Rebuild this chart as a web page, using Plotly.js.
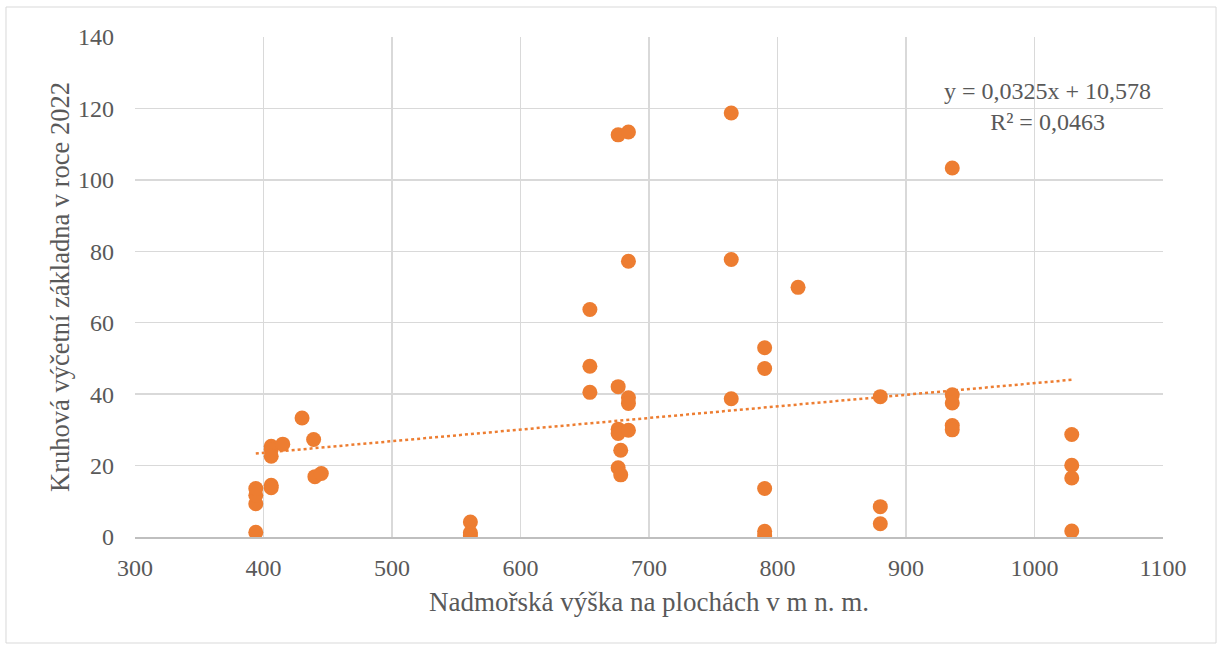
<!DOCTYPE html>
<html>
<head>
<meta charset="utf-8">
<script src="https://cdn.plot.ly/plotly-3.0.1.min.js"></script>
<style>html,body{margin:0;padding:0;background:#fff;}#chart{width:1222px;height:646px;}</style>
</head>
<body>
<div id="chart"></div>
<script>
// Altitude (m a.s.l.) of plots
const altitude = [
  394, 394, 394, 394,
  406, 406, 406, 406, 406,
  415, 430, 439, 440, 445,
  561, 561, 561,
  654, 654, 654,
  676, 676, 676, 676, 676,
  678, 678,
  684, 684, 684, 684, 684,
  764, 764, 764,
  790, 790, 790, 790, 790,
  816,
  880, 880, 880,
  936, 936, 936, 936, 936,
  1029, 1029, 1029, 1029
];
// Basal area in 2022
const basalArea = [
  1.3, 9.3, 11.7, 13.6,
  14.5, 13.8, 25.4, 24.5, 22.6,
  26.0, 33.3, 27.3, 16.9, 17.8,
  4.2, 1.2, 0.4,
  63.7, 47.8, 40.5,
  42.1, 112.6, 30.2, 29.0, 19.4,
  24.3, 17.4,
  113.4, 77.2, 39.0, 37.4, 29.9,
  118.7, 77.7, 38.7,
  53.0, 47.2, 13.6, 1.6, 0.4,
  69.9,
  39.3, 8.5, 3.7,
  103.3, 39.8, 37.5, 31.2, 30.0,
  28.7, 20.1, 16.5, 1.7
];
// Trendline coefficients as printed on the chart
const trendSlope = [0.0325];
const trendIntercept = [10.578];
const trendLabel = ["y = 0,0325x + 10,578", "R² = 0,0463"];
const xTitle = "Nadmořská výška na plochách v m n. m.";
const yTitle = "Kruhová výčetní základna v roce 2022";

const xMin = Math.min(...altitude), xMax = Math.max(...altitude);
const trendX = [xMin, xMax];
const trendY = trendX.map(x => trendSlope[0] * x + trendIntercept[0]);

const orange = '#ED7D31';
const font = '"Liberation Serif", "Times New Roman", serif';
const textColor = '#595959';

const data = [
  {
    x: trendX, y: trendY, type: 'scatter', mode: 'lines',
    line: {color: orange, width: 2.5, dash: 'dot'},
    hoverinfo: 'skip', showlegend: false
  },
  {
    x: altitude, y: basalArea, type: 'scatter', mode: 'markers',
    marker: {color: orange, size: 15, line: {width: 0}},
    showlegend: false
  }
];

const layout = {
  width: 1222, height: 646,
  margin: {l: 135, r: 59, t: 37, b: 109},
  paper_bgcolor: '#ffffff', plot_bgcolor: '#ffffff',
  font: {family: font, size: 24, color: textColor},
  xaxis: {
    range: [300, 1100], dtick: 100, tick0: 300,
    showgrid: true, gridcolor: '#d9d9d9', gridwidth: 1.5,
    showline: true, linecolor: '#bfbfbf', linewidth: 1.5,
    zeroline: false, ticks: '', ticklabelstandoff: 9,
    tickfont: {family: font, size: 24, color: textColor},
    title: {text: xTitle, font: {family: font, size: 27, color: textColor}, standoff: 12}
  },
  yaxis: {
    range: [0, 140], dtick: 20, tick0: 0,
    showgrid: true, gridcolor: '#d9d9d9', gridwidth: 1.5,
    showline: false, zeroline: false, ticks: '', ticklabelstandoff: 20,
    tickfont: {family: font, size: 24, color: textColor},
    title: {text: yTitle, font: {family: font, size: 26.5, color: textColor}, standoff: 0}
  },
  annotations: [{
    xref: 'paper', yref: 'paper', x: 0.888, y: 0.862,
    xanchor: 'center', yanchor: 'middle', align: 'center',
    text: trendLabel.join('<br>'), showarrow: false,
    font: {family: font, size: 24, color: textColor}
  }],
  shapes: [{
    type: 'rect', xref: 'paper', yref: 'paper', layer: 'below',
    x0: -0.1255, x1: 1.0516, y0: -0.212, y1: 1.06,
    line: {color: '#d9d9d9', width: 1}, fillcolor: 'rgba(0,0,0,0)'
  }]
};

Plotly.newPlot('chart', data, layout, {displayModeBar: false, staticPlot: true});
</script>
</body>
</html>
